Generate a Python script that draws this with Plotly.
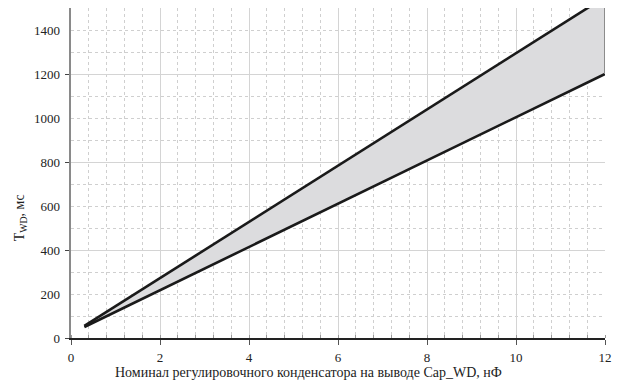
import plotly.graph_objects as go

# Регулировочный конденсатор Cap_WD, нФ, и границы времени T_WD, мс
cap_nf = [0.3, 2, 4, 6, 8, 10, 12]
t_wd_min = [50, 217, 414, 610, 807, 1003, 1200]
t_wd_max = [55, 272, 528, 783, 1039, 1294, 1550]

x_ticks = [0, 2, 4, 6, 8, 10, 12]
y_labels = [0, 200, 400, 600, 800, 1000, 1200, 1400]
X_MAX = 12
Y_MAX = 1500

FONT = "Liberation Serif"
TEXT_COLOR = "#222222"
LINE_COLOR = "#1a1a1a"
FILL_COLOR = "#dcdcde"
GRID_MAJOR = "#d4d4d4"
GRID_MINOR = "#cfcfcf"
TICK_FONT = dict(family=FONT, size=13, color=TEXT_COLOR)

fig = go.Figure()

fig.add_trace(go.Scatter(
    x=cap_nf, y=t_wd_min, mode="lines",
    line=dict(color=LINE_COLOR, width=2.6),
    showlegend=False, hoverinfo="skip",
))
fig.add_trace(go.Scatter(
    x=cap_nf, y=t_wd_max, mode="lines",
    line=dict(color=LINE_COLOR, width=2.6),
    fill="tonexty", fillcolor=FILL_COLOR,
    showlegend=False, hoverinfo="skip",
))
# right-hand edge of the shaded band above the lower line
fig.add_trace(go.Scatter(
    x=[cap_nf[-1], cap_nf[-1]], y=[t_wd_min[-1], Y_MAX], mode="lines",
    line=dict(color="#8c8c8c", width=2),
    showlegend=False, hoverinfo="skip",
))
# invisible trace that carries the labelled overlay axis
fig.add_trace(go.Scatter(
    x=[0], y=[0], mode="markers", marker=dict(opacity=0),
    xaxis="x", yaxis="y2", showlegend=False, hoverinfo="skip",
))

fig.update_layout(
    width=620, height=384,
    margin=dict(l=71, r=12, t=8, b=46),
    paper_bgcolor="white", plot_bgcolor="white",
    font=dict(family=FONT, size=13, color=TEXT_COLOR),
    xaxis=dict(
        range=[0, X_MAX], tickvals=x_ticks,
        showgrid=True, gridcolor=GRID_MAJOR, gridwidth=1.3,
        minor=dict(dtick=0.4, tick0=0, showgrid=True, gridcolor=GRID_MINOR,
                   griddash="dot", gridwidth=1,
                   ticks="inside", ticklen=3, tickwidth=1, tickcolor="#999"),
        showline=True, linecolor="#222", linewidth=1.6,
        ticks="outside", ticklen=5, tickwidth=1.3, tickcolor="#555",
        zeroline=False, tickfont=TICK_FONT, ticklabelstandoff=2,
    ),
    yaxis=dict(
        range=[0, Y_MAX], dtick=400, tick0=0,
        showgrid=True, gridcolor=GRID_MAJOR, gridwidth=1.3,
        minor=dict(dtick=100, showgrid=True, gridcolor=GRID_MINOR,
                   griddash="dot", gridwidth=1),
        showline=True, linecolor="#8a8a8a", linewidth=2,
        ticks="outside", ticklen=4, tickwidth=1.3, tickcolor="#444",
        showticklabels=False, zeroline=False,
    ),
    yaxis2=dict(
        range=[0, Y_MAX], overlaying="y", side="left",
        tickvals=y_labels, showgrid=False, zeroline=False,
        showline=False, ticks="", ticklabelstandoff=10,
        tickfont=TICK_FONT,
    ),
    annotations=[
        dict(text="Номинал регулировочного конденсатора на выводе Cap_WD, нФ",
             xref="paper", yref="paper", x=(310 - 71) / 537, y=-34 / 330,
             xanchor="center", yanchor="middle", showarrow=False,
             font=dict(size=14, family=FONT, color=TEXT_COLOR)),
        dict(text="T<sub>WD</sub>, мс",
             xref="paper", yref="paper", x=-51 / 537, y=(338 - 218) / 330,
             xanchor="center", yanchor="middle", showarrow=False, textangle=-90,
             font=dict(size=14, family=FONT, color=TEXT_COLOR)),
    ],
)

fig.write_html("out.html")
